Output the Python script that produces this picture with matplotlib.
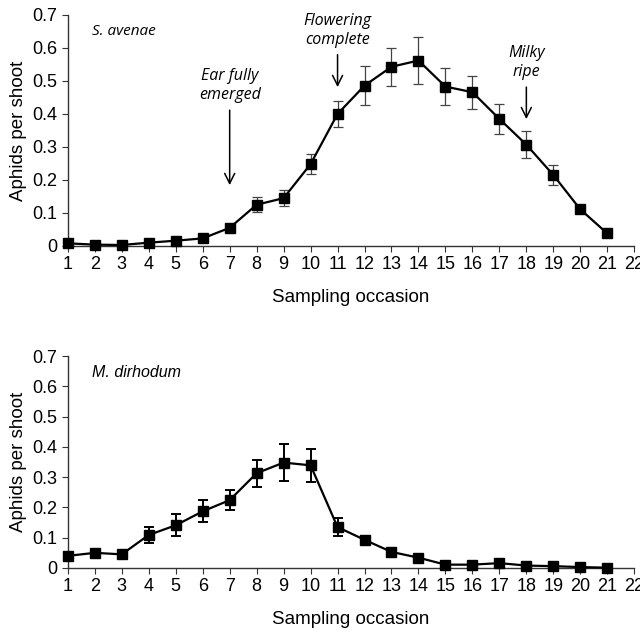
import matplotlib
matplotlib.use("Agg")
import matplotlib.pyplot as plt

occasion = list(range(1, 22))
s_avenae = [0.008, 0.004, 0.003, 0.010, 0.016, 0.023, 0.055, 0.125, 0.145, 0.248,
            0.400, 0.486, 0.543, 0.562, 0.483, 0.466, 0.385, 0.307, 0.215, 0.111, 0.038]
s_avenae_err = [0.003, 0.002, 0.002, 0.003, 0.004, 0.005, 0.008, 0.022, 0.024, 0.030,
                0.040, 0.058, 0.058, 0.071, 0.057, 0.050, 0.046, 0.040, 0.031, 0.010, 0.005]
m_dirhodum = [0.040, 0.050, 0.045, 0.109, 0.141, 0.187, 0.224, 0.313, 0.348, 0.339,
              0.135, 0.093, 0.053, 0.034, 0.011, 0.011, 0.016, 0.008, 0.006, 0.003, 0.001]
m_dirhodum_err = [0.004, 0.004, 0.004, 0.025, 0.036, 0.036, 0.032, 0.045, 0.061, 0.054,
                  0.030, 0.012, 0.006, 0.005, 0.003, 0.003, 0.004, 0.002, 0.002, 0.001, 0.001]

xticks = list(range(1, 23))
yticks = [0, 0.1, 0.2, 0.3, 0.4, 0.5, 0.6, 0.7]
ytick_labels = ["0", "0.1", "0.2", "0.3", "0.4", "0.5", "0.6", "0.7"]

stages = ["Ear fully\nemerged", "Flowering\ncomplete", "Milky\nripe"]
stage_x = [7, 11, 18]
stage_arrow_top = [0.42, 0.588, 0.49]
stage_arrow_tip = [0.176, 0.473, 0.376]

plt.rcParams['font.family'] = ['Liberation Sans', 'DejaVu Sans']

fig = plt.figure(figsize=(6.4, 6.32), dpi=100)
ax1 = fig.add_axes([0.106, 0.6108, 0.885, 0.3655])
ax2 = fig.add_axes([0.106, 0.1013, 0.885, 0.3354])

def style(ax):
    ax.set_xlim(1, 22)
    ax.set_ylim(0, 0.7)
    ax.set_xticks(xticks)
    ax.set_yticks(yticks)
    ax.set_yticklabels(ytick_labels)
    for s in ['top', 'right']:
        ax.spines[s].set_visible(False)
    for s in ['left', 'bottom']:
        ax.spines[s].set_color('#333333')
        ax.spines[s].set_linewidth(1.0)
    ax.tick_params(axis='both', labelsize=13, color='#333333', length=4, direction='out')
    ax.tick_params(axis='x', pad=3)
    ax.set_xlabel("Sampling occasion", fontsize=13.5, labelpad=12)
    ax.set_ylabel("Aphids per shoot", fontsize=13.5, labelpad=4)

ann_font = ['Open Sans', 'DejaVu Sans']

ax1.errorbar(occasion, s_avenae, yerr=s_avenae_err, color='black', marker='s',
             markersize=7, linewidth=1.6, ecolor='#444444', elinewidth=0.9,
             capsize=3.5, capthick=0.9, clip_on=False, zorder=3)
style(ax1)
ax1.text(1.9, 0.65, "S. avenae", fontsize=11, style='italic', family=ann_font,
         va='center', ha='left')
for t, x, yt, yb in zip(stages, stage_x, stage_arrow_top, stage_arrow_tip):
    ax1.annotate("", xy=(x, yb), xytext=(x, yt),
                 arrowprops=dict(arrowstyle='->', color='black', lw=1.1, mutation_scale=18))
    ax1.text(x, yt + 0.012, t, fontsize=11.5, style='italic', family=ann_font,
             ha='center', va='bottom', linespacing=1.25)

ax2.errorbar(occasion, m_dirhodum, yerr=m_dirhodum_err, color='black', marker='s',
             markersize=7, linewidth=1.6, ecolor='black', elinewidth=1.4,
             capsize=3.5, capthick=1.4, clip_on=False, zorder=3)
style(ax2)
ax2.text(1.9, 0.645, "M. dirhodum", fontsize=11.5, style='italic', va='center', ha='left')

fig.savefig("out.png", dpi=100)
